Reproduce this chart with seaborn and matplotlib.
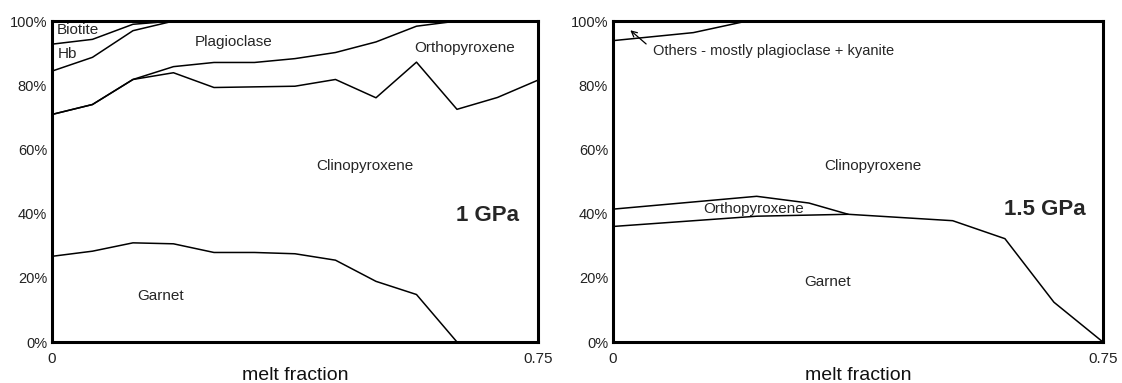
import matplotlib
matplotlib.use('Agg')
import matplotlib.pyplot as plt
import seaborn as sns

# melt fraction steps, 1 GPa run
melt_1gpa = [0, 0.0625, 0.125, 0.1875, 0.25, 0.3125, 0.375, 0.4375, 0.5, 0.5625, 0.625, 0.6875, 0.75]

# cumulative tops of each phase field (% of residue)
garnet_1gpa = [26.7, 28.3, 30.9, 30.6, 27.9, 27.9, 27.5, 25.5, 18.9, 14.8, 0, 0, 0]
cpx_1gpa = [70.9, 74.0, 81.8, 83.9, 79.3, 79.5, 79.7, 81.8, 76.1, 87.2, 72.5, 76.2, 81.6]
opx_1gpa = [70.9, 74.0, 81.8, 85.8, 87.1, 87.1, 88.3, 90.2, 93.5, 98.4, 100, 100, 100]
plag_1gpa = [84.4, 88.7, 97.0, 100, 100, 100, 100, 100, 100, 100, 100, 100, 100]
hb_1gpa = [92.8, 94.3, 99.0, 100, 100, 100, 100, 100, 100, 100, 100, 100, 100]

# 1.5 GPa run - boundaries have their own break points
melt_garnet_15 = [0, 0.22, 0.36, 0.52, 0.60, 0.675, 0.75]
garnet_15 = [36.0, 39.2, 39.8, 37.8, 32.2, 12.4, 0]
melt_opx_15 = [0, 0.22, 0.30, 0.36]
opx_15 = [41.4, 45.4, 43.3, 39.8]
melt_cpx_15 = [0, 0.123, 0.205, 0.75]
cpx_15 = [93.9, 96.4, 100, 100]

y_ticks = [0, 20, 40, 60, 80, 100]
y_labels = [f'{v}%' for v in y_ticks]

sns.set_theme(style='white')
plt.rcParams['font.family'] = ['Liberation Sans', 'DejaVu Sans']

fig = plt.figure(figsize=(11.22, 3.83), dpi=100)
ax1 = fig.add_axes([0.0463, 0.107, 0.4332, 0.838])
ax2 = fig.add_axes([0.5463, 0.107, 0.4367, 0.838])

for ax in (ax1, ax2):
    ax.set_xlim(0, 0.75)
    ax.set_ylim(0, 100)
    ax.set_xticks([0, 0.75])
    ax.set_xticklabels(['0', '0.75'])
    ax.set_yticks(y_ticks)
    ax.set_yticklabels(y_labels)
    ax.tick_params(axis='y', length=0, pad=3.5, labelsize=10.5, colors='#222222')
    ax.tick_params(axis='x', length=0, pad=7, labelsize=11, colors='#222222')
    for sp in ax.spines.values():
        sp.set_linewidth(2.2)
        sp.set_color('black')
    ax.set_xlabel('melt fraction', fontsize=14, labelpad=1, color='#111111')
    ax.set_ylabel('')

# ---- 1 GPa ----
for ys in [garnet_1gpa, cpx_1gpa, opx_1gpa, plag_1gpa, hb_1gpa]:
    sns.lineplot(x=melt_1gpa, y=ys, ax=ax1, color='black', linewidth=1.1, legend=False)

ax1.text(0.008, 97.2, 'Biotite', fontsize=11, va='center', ha='left')
ax1.text(0.009, 89.7, 'Hb', fontsize=11, va='center', ha='left')
ax1.text(0.281, 93.6, 'Plagioclase', fontsize=11, va='center', ha='center')
ax1.text(0.637, 91.5, 'Orthopyroxene', fontsize=11, va='center', ha='center')
ax1.text(0.483, 54.8, 'Clinopyroxene', fontsize=11, va='center', ha='center')
ax1.text(0.168, 14.3, 'Garnet', fontsize=11, va='center', ha='center')
ax1.text(0.72, 39.3, '1 GPa', fontsize=16, fontweight='bold', va='center', ha='right')

# ---- 1.5 GPa ----
sns.lineplot(x=melt_garnet_15, y=garnet_15, ax=ax2, color='black', linewidth=1.1, legend=False)
sns.lineplot(x=melt_opx_15, y=opx_15, ax=ax2, color='black', linewidth=1.1, legend=False)
sns.lineplot(x=melt_cpx_15, y=cpx_15, ax=ax2, color='black', linewidth=1.1, legend=False)

ax2.text(0.0617, 90.7, 'Others - mostly plagioclase + kyanite', fontsize=10.5, va='center', ha='left')
ax2.annotate('', xy=(0.0234, 97.7), xytext=(0.054, 92.3),
             arrowprops=dict(arrowstyle='->', color='black', lw=0.9, mutation_scale=10))
ax2.text(0.398, 54.8, 'Clinopyroxene', fontsize=11, va='center', ha='center')
ax2.text(0.216, 41.5, 'Orthopyroxene', fontsize=11, va='center', ha='center')
ax2.text(0.329, 18.7, 'Garnet', fontsize=11, va='center', ha='center')
ax2.text(0.724, 41.4, '1.5 GPa', fontsize=16, fontweight='bold', va='center', ha='right')

fig.savefig('out.png', dpi=100)
